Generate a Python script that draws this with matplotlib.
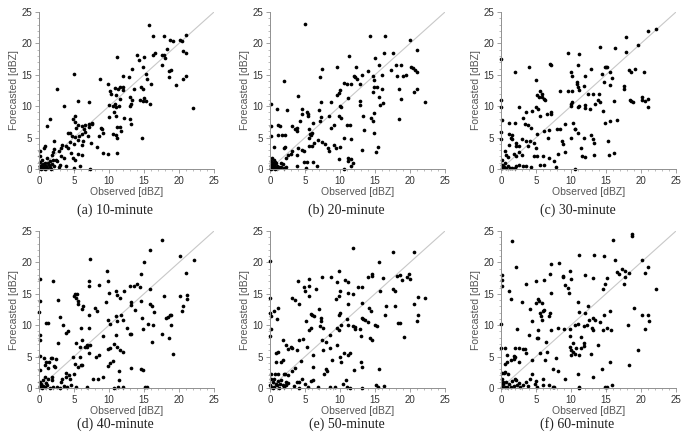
import numpy as np
import matplotlib
matplotlib.use("Agg")
from matplotlib import pyplot as plt
from matplotlib.ticker import MultipleLocator

# (observed, forecasted) pairs, in dBZ
pts_10 = [(15.7,23), (16.3,21.2), (17.8,21.2), (21,21.4), (18.7,20.5), (19.1,20.4), (20.2,20.5), (20.4,20.4),
          (20.5,18.8), (21,18.4), (16.3,18.2), (16.5,18.4), (17.9,18.1), (17.5,18.1), (18,17.6), (14,18.2),
          (14.3,17.4), (15,17.9), (11.2,17.8), (18.3,19.1), (17.5,16.6), (18.6,15.6), (18.9,15.7), (15.3,15.1),
          (14.9,16.2), (15.4,14.4), (16,13.6), (18.5,14.7), (20.5,14.4), (21,14.8), (19.5,13.4), (22,9.7),
          (13.3,15.9), (12,14.8), (12,13), (11.5,13.1), (12,12.6), (10.8,12.9), (11.3,12.8), (9.8,13.6),
          (10.1,12.4), (10.3,11.9), (8.7,14.4), (5,15.1), (2.5,12.7), (3.5,10), (5.6,10.8), (7.2,10.7),
          (11,11.8), (13,11.5), (13.3,11), (13.5,12.8), (12.8,14.6), (14.5,13), (14.8,12.8), (14.4,11),
          (15,11.3), (15.3,10.8), (15.8,10.3), (14.8,10.9), (13,10), (13.1,10.3), (11.6,11.2), (10,10.2),
          (10.5,10), (10.9,10.3), (11,9.9), (10,8.3), (10.7,9.1), (11,8.5), (11.4,10), (12.2,8.1), (13,8),
          (13.2,7.2), (14.7,5), (11.2,6.7), (11.5,6.7), (11,5.4), (11.2,5), (11.7,6), (10.5,5.6), (11.2,2.5),
          (9.2,2.5), (9.8,2.4), (8.8,6.5), (9.2,5.7), (9,6.3), (8.5,5.2), (8.3,3.5), (7.5,7.4), (7.5,7.2),
          (7.1,7.2), (7.2,6.7), (6.4,6.3), (6.1,6.9), (6.6,7), (5.2,8.5), (4.8,7.9), (5.1,7.5), (5.5,7),
          (5.3,6.5), (6.6,5.9), (6.1,5.6), (5.7,5.3), (5.2,5.1), (4.7,5.3), (4.4,5.8), (4.1,5.7), (7,5.3),
          (4.4,4.3), (5.5,4.6), (6.3,4.5), (6.2,3.8), (7.4,4.1), (5,4), (4.2,3.4), (3.8,3.6), (3.3,3.8),
          (3.1,3.4), (2.9,2.9), (3.2,2.1), (3.6,1.7), (4.5,2.6), (5.5,2.4), (6.2,2.2), (5.1,1.5), (4.8,1.8),
          (5.8,0.4), (5,0.2), (7.3,0), (1.1,6.8), (1.6,8), (2.1,4.4), (2.2,3.2), (1.8,2.3), (2,2.7), (2.4,1.4),
          (2.6,1.3), (3,0.6), (2.8,0.3), (3.8,0.4), (1.5,1.2), (1.2,1.8), (0.9,3.6), (0.7,3.4), (0.2,2.8),
          (0.1,2), (0.4,1.5), (0.2,1.1), (0.5,0.8), (0.7,0.5), (1,0.4), (0.3,0.3), (0.1,0.1), (0.6,0.1),
          (0.9,1), (1.3,0.9), (1.9,0.8), (2.2,0.5), (1.6,0.3), (0.4,0.6), (0.8,0.2), (1.1,0.1), (1.4,0.6),
          (0.2,0.5), (0.3,0), (0.9,0), (1.7,0), (2,1.5), (0.1,0.4)]

pts_20 = [(5,23.1), (14.3,21.1), (16.4,21.1), (20,20.5), (21,19), (16.3,18.4), (17.6,18.4), (11.3,18), (15,17.6),
          (18,16.6), (18.7,16.6), (17.3,15.8), (15.6,16.5), (16,15), (19,14.8), (19.4,15), (20.1,16.2),
          (20.4,16.1), (20.7,15.8), (21,15.5), (18.2,14.8), (14.7,14.8), (13.2,15), (12,14.8), (12.2,14.7),
          (11.5,13.5), (12.4,14.3), (12.3,16.3), (9.5,16.2), (7.4,15.9), (7.1,14.6), (2,14), (14,15.6),
          (14.8,14.2), (14.9,13), (15.3,13), (14.7,12.2), (12.9,13.6), (10.6,13.7), (11,13.5), (11.2,11.3),
          (10,12.6), (9.6,11.8), (9.8,12.1), (4,11.6), (18.4,12.7), (16,12.7), (20.6,12.2), (21,12.8),
          (18.7,11.1), (22.1,10.6), (15.6,11.5), (16.2,10.5), (15.7,10.2), (12.9,10.9), (12.8,10.2), (10,10),
          (10.1,9.8), (7.3,10.6), (7,9.4), (8.7,10.6), (4.6,9.6), (4.6,8.8), (5.4,8.8), (5.3,9), (2.4,9.4),
          (1,9.5), (0.1,10.3), (13.3,8.4), (14.4,8.1), (14.8,8.9), (14.7,7.6), (18.4,8), (11,7), (11.4,7),
          (9.8,8.4), (10.1,8.2), (8.4,8.4), (8.7,6.6), (9.1,7), (7.3,8.3), (7.2,7.6), (6.1,7.4), (5.4,8.5),
          (4.3,7.6), (3.9,6.6), (3.6,6.3), (3.2,6.8), (3.9,6), (5.6,6.4), (6,5.8), (5.8,5.4), (5.7,5.5),
          (7.4,4.3), (7.8,4), (6.8,4.6), (6.3,4.2), (5.5,3.6), (6,3.6), (5.6,4.9), (8.3,3.3), (8.4,2.9),
          (9.2,3.9), (9.4,3.3), (10,3.5), (10.5,4.9), (11.5,4.8), (13.2,3.1), (13.4,6.2), (14.8,5.7),
          (15.2,2.7), (15.4,3.5), (11.2,1.8), (11.1,1.2), (11.5,1.6), (11.9,0.9), (10.6,0), (11.5,0.5),
          (9.9,1.6), (6.7,0.5), (6.1,1.1), (5.3,1.1), (5.1,0.2), (4.8,1.1), (4.6,3.1), (4.9,2.8), (4,3.3),
          (3.8,0.4), (3.2,2.8), (3.8,2.3), (2.5,2.2), (2.3,1.8), (3,2.4), (2.1,3.5), (2,3.4), (1.7,5.4),
          (1.2,5.4), (1.4,6.9), (2.1,5.4), (1.2,7), (0.6,3.5), (0.1,6.9), (0.2,5.3), (2.3,0.3), (1.9,0.8),
          (1.5,1), (2,0.2), (1,0.5), (0.3,1.8), (0.2,1.3), (0.5,1.5), (0.7,1.1), (0.3,0.8), (0.5,0.4),
          (0.2,0.2), (0.8,0.2), (0.1,0.5), (1.3,0.3), (0.6,0.7), (0.9,0.9), (0.4,0.1), (0.1,0), (1.1,0.1),
          (0.7,0), (0.2,0.6), (1.6,0.3), (0.4,1)]

pts_30 = [(22.1,22.3), (21,22), (17.9,21), (19.6,19.8), (16.3,19.2), (17.8,18.6), (14.2,19.4), (9.6,18.5),
          (11.1,18.3), (0,17.5), (7,16.7), (7.1,16.6), (4,16.3), (11,16.5), (14.8,16.3), (15,16.3), (15.2,16.3),
          (12.9,15.9), (2,15.4), (10,15.4), (10.1,14.8), (12,14.8), (14.4,15.2), (15.6,15.4), (18.3,15.8),
          (18.6,15.4), (19.1,16), (20.4,15.4), (5,14.2), (10.9,13.8), (14.7,13.9), (15.5,13.3), (15.9,14.5),
          (17.5,12.8), (17.6,13.2), (5.5,12.4), (5.8,12), (5.9,11.5), (6.2,11.2), (6.3,11), (5.1,11.8),
          (5.4,11.4), (10.8,13.5), (11,13), (11.2,12.6), (10.2,12.5), (9.5,12.4), (8.4,12.4), (11.8,13.2),
          (12.4,12), (13.2,12), (14,12), (13.8,11), (12,10.2), (12,9.7), (10.2,10.6), (10,10.4), (10,10.1),
          (11.1,10), (11,9.9), (12.7,9.5), (13.4,10.3), (14.1,10.6), (14.5,9.3), (16.2,10.9), (18.4,11),
          (18.6,10.8), (18.8,10.7), (20.1,11.5), (20.2,11), (20.6,10.9), (21,11.2), (21,9.9), (0,11), (0,9.8),
          (2.5,9.8), (3.1,8.1), (3.6,9.1), (4.4,9.2), (5,9.8), (5.3,9.6), (5.6,8.4), (6.5,8.8), (7.2,8.8),
          (7.2,9), (8,6.4), (8.4,6.3), (9.1,7.2), (10.3,7.4), (10.6,6.4), (10.6,6.3), (11,5.8), (12.9,5.4),
          (14.8,7.4), (15.6,7.6), (16.6,7.8), (15.4,2.3), (15.3,4.5), (16.2,2.6), (11.9,4.9), (13.1,4.7),
          (13.3,4.2), (13.3,2.2), (11.4,3.3), (11.5,2), (12,1.9), (10.5,0), (9.1,2.7), (8.7,4.4), (8.9,4),
          (10,5), (6.7,5), (6.9,6.2), (5.2,5.6), (6.1,6), (4.7,4.2), (4.1,4.5), (3.6,4.4), (3.9,3.6), (3,4.7),
          (4.3,6.5), (3.9,7), (3.4,7.2), (2,7.3), (1.1,7.3), (0.1,7.8), (0,5.9), (0,4.8), (1.2,5.6), (1.5,5.4),
          (1.4,5), (1.5,4.7), (1.2,3.9), (2.1,4.1), (2.1,3.6), (2.5,3.6), (2.1,2.1), (2.5,2.7), (1.8,2.4),
          (0.6,2.8), (0.7,2.3), (1,1.9), (3,2.2), (4.7,2), (5,3.3), (5.2,2.1), (6,2.1), (6.2,0.6), (5.6,0.6),
          (6.8,1.8), (7.5,1.3), (7.8,0.3), (8.1,2.4), (3.6,0.5), (3.1,0.4), (4.3,0.3), (2.5,0.6), (1.6,0.2),
          (0.1,1.4), (0.2,0.7), (0.4,0.3), (0.7,0.1), (0.1,0.1), (1,0.5), (1.3,0.1), (2.1,0.5), (0.5,0.9),
          (2,0.1), (0.3,0.5)]

pts_40 = [(17.5,23.5), (15.8,22), (20.2,21), (22.1,20.4), (7.3,20.5), (15,20), (9.7,18.7), (21,18.3), (14.5,18.2),
          (0.1,17.3), (2,17.1), (7.1,17), (7.2,16.2), (8.6,16.4), (9.9,17), (13,16.2), (13.5,16.2), (14,16.5),
          (14.4,16.1), (15.8,15.7), (5.2,15), (5.4,15), (5,14.7), (5.3,14.3), (5.5,13.8), (5.6,13.3), (6.3,13),
          (6.2,12.6), (2.7,14), (0.1,13.8), (0,12.1), (10,15.1), (11,15.4), (11.2,14.8), (11.5,14.3),
          (12.2,15.4), (13.1,13.7), (13.2,13.2), (14.5,13.8), (15.9,13.4), (16.2,13), (16.4,12.1), (17.8,14.6),
          (20.1,14.6), (21.1,14.8), (21.2,14.2), (20.5,13.1), (20.4,12.2), (9.5,13.7), (8,12.7), (8.3,12.2),
          (7.2,11.7), (3,11.3), (1,10.4), (1.3,10.4), (3.4,10), (4.2,9), (3.8,8.7), (6,9.5), (7.1,9.5),
          (9.8,10.8), (10.2,10.2), (11,11.4), (11.1,10.6), (11.7,11.6), (12,10.8), (13.7,12.4), (14.7,11.2),
          (14.8,9.4), (15.5,10.2), (16.3,10.1), (18.2,11.2), (18.4,11.3), (18.7,11.6), (18.8,11.6), (18.5,8),
          (18.8,10.1), (17.5,8.6), (16.2,7.4), (19.1,5.4), (12.6,9.6), (13,8.6), (13.2,8.6), (11,8.4),
          (9.1,8.3), (10.1,6.3), (9.8,6.2), (10.7,7), (11.1,6.5), (11.5,6), (12,5.7), (11.4,2.7), (11.4,1.2),
          (13.1,3.2), (14.5,3.1), (14.8,2.9), (15.1,0.1), (15.4,0.1), (12,0.1), (11.3,0.1), (10.7,0),
          (10.6,4.3), (10.2,4), (9.8,3.5), (9.1,1.7), (8.4,1.4), (7.7,1.4), (8.1,4.9), (8.6,5.3), (7.3,6.8),
          (6.9,6.8), (6.8,6.5), (7.2,5.6), (6.5,6.6), (6.1,7.6), (5.8,6.6), (5.3,7.2), (5.8,5), (5.2,3.9),
          (4.8,4.9), (6,3.6), (6.2,3.6), (5.6,3.3), (5,2.3), (4.3,2), (4.4,1.4), (3.9,1.8), (3.8,2.4),
          (3.3,1.4), (3.2,0.9), (2.7,7.1), (2.4,4.6), (1.7,4.8), (1.9,4.8), (2.1,3.5), (2.3,3.4), (1.4,4.2),
          (1,4.1), (0.9,3.6), (0.7,4.8), (1.3,3.2), (0.2,5.1), (0.1,2.8), (0.1,8.4), (0.2,7.7), (1.9,1.7),
          (1.9,1.3), (1.3,1.4), (0.8,1.7), (0.5,1.2), (0.2,1), (0.3,0.6), (0.6,0.3), (0.1,0.1), (0.8,0.1),
          (1.2,0.4), (1.5,0), (2,0.2), (2.5,0.1), (3.5,0.3), (4,0.1), (4.6,0.4), (5.3,0.1), (6.9,0.2), (0.4,0),
          (1,0.8), (0.2,0.3), (3,0)]

pts_50 = [(0,20.2), (11.9,22.3), (17.5,21.6), (20.5,21.7), (9.8,18.7), (15.6,20.1), (14.5,18.2), (14.5,17.9),
          (14,17.6), (16.2,17.5), (18.2,17.8), (18.6,18), (19.5,17.7), (19.8,18.1), (20,17.3), (18.9,17.2),
          (4,17), (5.5,17.3), (7.4,17.6), (8.7,17.6), (10.7,17.2), (11.2,16.8), (12.5,16.1), (13.2,16.1),
          (9.6,16.9), (4.9,16.1), (5,15.5), (5.5,16.2), (6.5,15.8), (5.5,14.7), (10,15.5), (9.9,14.6),
          (11.2,15.2), (11.9,15), (15.7,15.4), (17.5,15.7), (17.9,15.5), (0,14.4), (3.2,14.3), (3.5,14),
          (4.2,13.3), (9.4,14.2), (13.2,13.5), (14.2,12.7), (14.4,12.3), (16.4,11.6), (16.6,13.1), (17.9,13.1),
          (18.3,10.3), (18.5,10.3), (20.5,13.4), (21.1,14.5), (21.2,11.7), (21,10.7), (22.1,14.3), (19.1,8.2),
          (0,12), (0.2,11.4), (0.6,12.2), (1.2,12.7), (1,11), (6,11.7), (6.3,11.5), (5.9,11.8), (7,12.6),
          (7.3,11.2), (7.3,10.7), (7.1,9.9), (5.1,10.6), (5.8,9.6), (5.6,9.2), (7.5,9.5), (8.5,8.5), (9.8,11.6),
          (10,12), (10.1,10.1), (9.8,9.3), (11,11), (11.1,10), (11.2,13.3), (11.8,9.9), (12.1,9.7), (12.1,9.4),
          (12.8,9.4), (13,8.3), (13.2,11.1), (13.3,11), (13.6,10.8), (14,10.5), (14.3,8), (14.5,7.6), (15,10),
          (15.3,9.9), (0.1,9.4), (0,8.3), (1.9,7.7), (2.3,6.8), (2.6,6.2), (3,6.5), (3.2,6.3), (3.8,6),
          (4.1,7.6), (4.7,7.8), (5.3,6.6), (6.1,5.3), (7.4,7.7), (7.5,6.1), (8,7.3), (8.6,6.4), (9.6,6.8),
          (9.5,9.5), (10,5), (10.2,4.2), (10.6,5.6), (11.1,5.3), (11.4,5.6), (12,2.8), (13,4.1), (13.2,3.3),
          (15.5,3.1), (8.9,4.4), (8,3), (8.1,2.7), (7.7,2.2), (6.2,3.3), (4.4,4.3), (3.5,3.2), (3.2,2.7),
          (1.1,5.8), (0.8,5.5), (0.9,4.2), (1.6,4.2), (1.8,4.5), (2.2,2.3), (2,2.3), (2.3,1), (2.5,2),
          (1.1,2.3), (0.7,2.3), (0.2,2.2), (0.2,1.5), (0.6,1.5), (1.2,1.1), (0.4,0.9), (0,0.5), (0.1,0.2),
          (0.5,0.2), (1,0.4), (1.4,0.6), (1.8,0.5), (2,0.1), (2.3,0.4), (3.4,0.3), (3.8,1), (4.1,0.9),
          (4.5,1.4), (5,0.7), (5.4,0.2), (5.9,1.1), (6.1,1.2), (6.9,0.2), (8.6,0.1), (9.3,0.2), (10.8,1.2),
          (11,0.2), (11.4,0), (13.1,0), (15.2,0.4), (15.4,0.1), (16.3,0.3), (10.4,0.7), (4.2,0), (2.6,0.8),
          (1.6,1.3), (0.8,0.7), (1.3,0), (0.4,0)]

pts_60 = [(18.7,24.5), (18.7,24.2), (1.5,23.4), (16,23.6), (11.2,21.1), (13.3,21.1), (14.7,21), (2.1,19.2),
          (7.2,19.8), (8.3,19.9), (9.9,18.7), (0.1,18), (0.1,17.2), (0.1,16.3), (3.5,16.5), (5,17.1), (6.1,17.2),
          (7,18.1), (8.8,17.9), (8.8,17.7), (10,17.4), (12,18), (13.2,17.5), (15.1,17.5), (14.8,16.5),
          (14.6,15.7), (16.3,20.4), (16.5,18.4), (16.8,18.1), (17.3,19), (17.7,18.7), (17.5,16.6), (17.7,17.7),
          (18.3,18.3), (20.1,20.4), (20.5,18.3), (21,19.3), (22.1,15.7), (9.1,16.4), (9.6,16), (9.7,15.1),
          (1.2,15.4), (1.4,14.2), (3,13.7), (5.3,14.1), (5.4,13.8), (5.8,13.6), (7.2,15.2), (5,13.5), (4.2,12.6),
          (5.5,12), (6,12.3), (6.2,12.5), (6.8,11.5), (7,11.9), (5.7,11.4), (4.4,10.6), (5.8,10.8), (5.3,9.2),
          (7.2,9.3), (8.2,9.6), (9,9.4), (0,10.2), (2.3,9.4), (4,8.4), (5.1,8), (5.3,7.9), (6.4,7.3), (9.9,9.4),
          (9.9,8.3), (10.5,10), (10.3,7.2), (11,13.7), (11.2,12.1), (12,12), (12.4,13), (12.6,10.8), (13,9.5),
          (13.1,9.2), (13.2,11.1), (13.4,10.9), (14.1,10.5), (14.6,9.3), (14.7,11.6), (15.2,9.5), (15.5,12.2),
          (15.7,9.3), (12.3,10), (11.9,9.8), (11,10.2), (11.4,8.1), (11.9,7.1), (11.8,6.7), (11.4,6.4),
          (10.7,6.4), (10.5,5.4), (10,5.3), (10.3,5.7), (10,6.1), (9.8,6.6), (11.1,5.2), (12.9,5.4), (13.9,6.8),
          (18.2,10.1), (19,12.7), (20.1,11.6), (20.6,9.4), (21,11.6), (21.1,10.6), (19.5,6), (18.3,3.7),
          (15.5,4.1), (14.4,3.1), (13.2,1.8), (15.9,0.5), (14.8,0.2), (15.1,0.1), (11.1,0), (11.2,0.1), (11,2.2),
          (9.1,1.5), (8.2,2.7), (7.4,3), (7.8,4.7), (6.3,4.5), (6.5,5.8), (5.6,5.5), (4.4,4.4), (4.4,2.2),
          (3.4,6.2), (3.1,6.2), (3.6,5.6), (2.6,6.4), (2,6.3), (1.8,5.1), (2,5), (1.9,4.6), (2.6,4.2), (1.4,4.4),
          (0.6,6.3), (0,6.4), (0.9,5.2), (0.8,4.1), (0.5,3.8), (0.1,2.4), (0.5,2.6), (0.4,2.4), (1,2.3),
          (0.1,1.5), (0.3,1), (0.7,1), (1.1,0.6), (0.1,0.2), (0.5,0.2), (0.9,0.1), (1.4,0.1), (1.8,0.3),
          (2,1.5), (2.2,1.3), (2.6,0.8), (2.7,0.1), (3.2,0.5), (3.6,0.9), (3.9,0.3), (4.2,1.4), (4.8,0.7),
          (5,1.1), (5.1,0.1), (6,1.5), (6,0.5), (6.8,0.5), (7.4,0.2), (7.6,0.1), (2.3,0.5), (1.5,1.1), (0.3,0.6)]

panels = [pts_10, pts_20, pts_30, pts_40, pts_50, pts_60]
captions = ["(a) 10-minute", "(b) 20-minute", "(c) 30-minute",
            "(d) 40-minute", "(e) 50-minute", "(f) 60-minute"]
ticks = [0, 5, 10, 15, 20, 25]

fig = plt.figure(figsize=(6.82, 4.34), dpi=100)
W, H = 682, 434
lefts = [39, 270, 501]
tops = [12, 231]
aw, ah = 175, 157
cap_y = [210, 424]   # caption centre rows, px from top

for i, (pts, cap) in enumerate(zip(panels, captions)):
    r, c = divmod(i, 3)
    ax = fig.add_axes([lefts[c] / W, 1 - (tops[r] + ah) / H, aw / W, ah / H])
    p = np.array(pts)
    ax.plot([0, 25], [0, 25], color="#c8c8c8", lw=0.8, zorder=1)
    ax.scatter(p[:, 0], p[:, 1], s=7, color="black", linewidths=0, zorder=2, clip_on=False)
    ax.set_xlim(0, 25)
    ax.set_ylim(0, 25)
    ax.set_xticks(ticks)
    ax.set_yticks(ticks)
    ax.xaxis.set_minor_locator(MultipleLocator(1))
    ax.yaxis.set_minor_locator(MultipleLocator(1))
    for s in ["top", "right"]:
        ax.spines[s].set_visible(False)
    for s in ["left", "bottom"]:
        ax.spines[s].set_color("#909090")
        ax.spines[s].set_linewidth(0.7)
    ax.tick_params(which="major", length=3, width=0.6, color="#909090",
                   labelsize=7, labelcolor="#333333", pad=2)
    ax.tick_params(which="minor", length=1.5, width=0.5, color="#a0a0a0")
    for lab in ax.get_xticklabels() + ax.get_yticklabels():
        lab.set_family("Liberation Sans")
    ax.set_xlabel("Observed [dBZ]", fontsize=7.5, color="#555555", family="Liberation Sans", labelpad=1)
    ax.set_ylabel("Forecasted [dBZ]", fontsize=7.5, color="#555555", family="Liberation Sans", labelpad=2)
    cx = (lefts[c] + aw / 2 - 11) / W
    cy = 1 - cap_y[r] / H
    fig.text(cx, cy, cap, ha="center", va="center", fontsize=10,
             family="Liberation Serif", color="#222222")

fig.savefig("out.png", dpi=100)
